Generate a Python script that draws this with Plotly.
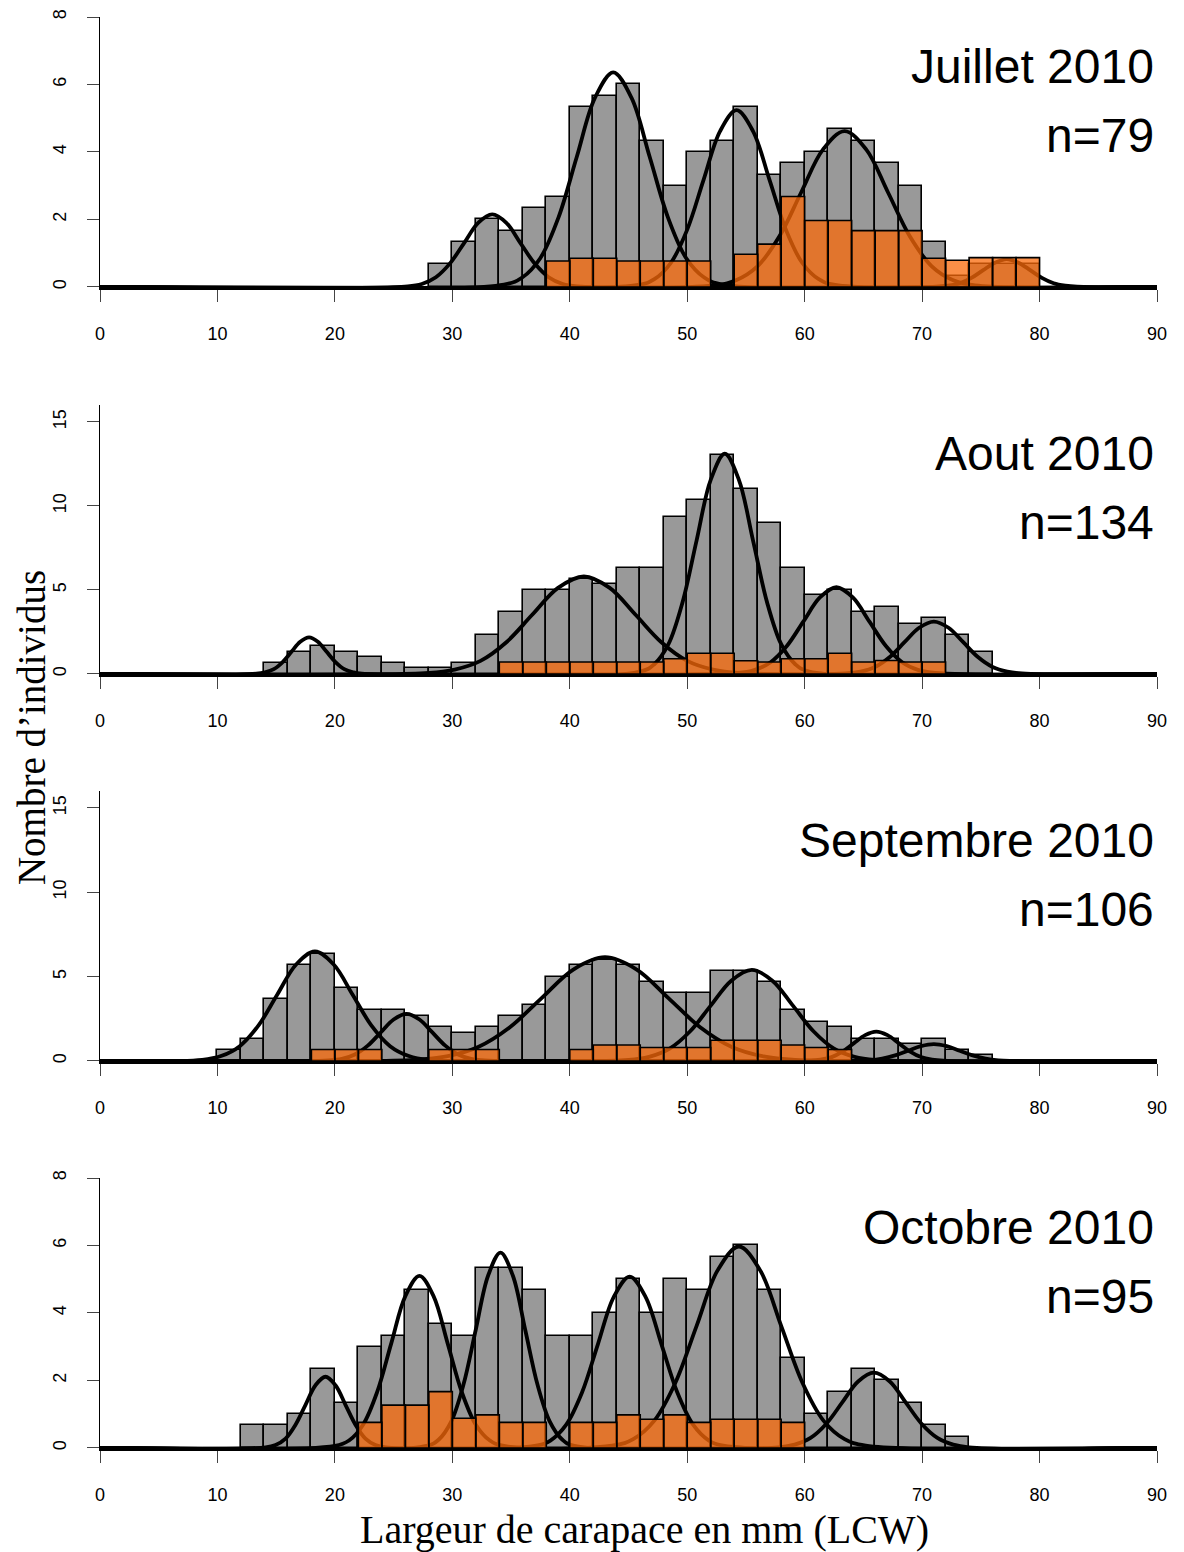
import plotly.graph_objects as go

# Juillet 2010
juillet_bins = list(range(28, 80, 2))
juillet_gray = [0.67, 1.33, 2.0, 1.67, 2.33, 2.67, 5.33, 5.67, 6.0, 4.33, 3.0, 4.0, 4.33,
                5.33, 3.33, 3.67, 4.0, 4.67, 4.33, 3.67, 3.0, 1.33, 0.33, 0.67, 0.67, 0.67]
juillet_obins = list(range(38, 80, 2))
juillet_orange = [0.77, 0.85, 0.85, 0.77, 0.77, 0.77, 0.77, 0, 0.97, 1.27, 2.68, 1.97, 1.97,
                  1.67, 1.67, 1.67, 0.85, 0.79, 0.87, 0.87, 0.87]
juillet_curves = [
    ([26.2, 27.4, 28.6, 29.8, 31.0, 32.2, 33.4, 34.6, 35.8, 37.0, 38.2, 39.4, 40.6],
     [0.02, 0.09, 0.29, 0.70, 1.30, 1.90, 2.15, 1.90, 1.30, 0.70, 0.29, 0.09, 0.02]),
    ([34.4, 35.95, 37.5, 39.05, 40.6, 42.15, 43.7, 45.25, 46.8, 48.35, 49.9, 51.45, 53.0],
     [0.07, 0.28, 0.86, 2.07, 3.86, 5.61, 6.36, 5.61, 3.86, 2.07, 0.86, 0.28, 0.07]),
    ([45.8, 47.2, 48.6, 50.0, 51.4, 52.8, 54.2, 55.6, 57.0, 58.4, 59.8, 61.2, 62.6],
     [0.06, 0.23, 0.71, 1.70, 3.18, 4.62, 5.24, 4.62, 3.18, 1.70, 0.71, 0.23, 0.06]),
    ([52.3, 54.15, 56.0, 57.85, 59.7, 61.55, 63.4, 65.25, 67.1, 68.95, 70.8, 72.65, 74.5],
     [0.05, 0.20, 0.62, 1.50, 2.80, 4.07, 4.62, 4.07, 2.80, 1.50, 0.62, 0.20, 0.05]),
    ([71.2, 72.2, 73.2, 74.2, 75.2, 76.2, 77.2, 78.2, 79.2, 80.2, 81.2, 82.2, 83.2],
     [0.01, 0.04, 0.11, 0.27, 0.50, 0.72, 0.82, 0.72, 0.50, 0.27, 0.11, 0.04, 0.01]),
]

# Aout 2010
aout_bins = list(range(14, 76, 2))
aout_gray = [0.67, 1.33, 1.67, 1.33, 1.0, 0.67, 0.33, 0.33, 0.67, 2.33, 3.67, 5.0, 5.0, 5.67,
             5.33, 6.33, 6.33, 9.33, 10.33, 13.0, 11.0, 9.0, 6.33, 4.67, 5.0, 3.67, 4.0, 3.0,
             3.33, 2.33, 1.33]
aout_obins = list(range(34, 72, 2))
aout_orange = [0.71, 0.71, 0.71, 0.71, 0.71, 0.71, 0.71, 0.91, 1.23, 1.23, 0.79, 0.71, 0.91,
               0.91, 1.23, 0.71, 0.8, 0.71, 0.71]
aout_curves = [
    ([13.3, 14.05, 14.8, 15.55, 16.3, 17.05, 17.8, 18.55, 19.3, 20.05, 20.8, 21.55, 22.3],
     [0.02, 0.10, 0.29, 0.71, 1.32, 1.92, 2.18, 1.92, 1.32, 0.71, 0.29, 0.10, 0.02]),
    ([28.0, 30.2, 32.4, 34.6, 36.8, 39.0, 41.2, 43.4, 45.6, 47.8, 50.0, 52.2, 54.4],
     [0.06, 0.26, 0.78, 1.89, 3.52, 5.12, 5.8, 5.12, 3.52, 1.89, 0.78, 0.26, 0.06]),
    ([46.0, 47.2, 48.4, 49.6, 50.8, 52.0, 53.2, 54.4, 55.6, 56.8, 58.0, 59.2, 60.4],
     [0.14, 0.58, 1.77, 4.26, 7.95, 11.55, 13.1, 11.55, 7.95, 4.26, 1.77, 0.58, 0.14]),
    ([54.3, 55.7, 57.1, 58.5, 59.9, 61.3, 62.7, 64.1, 65.5, 66.9, 68.3, 69.7, 71.1],
     [0.06, 0.23, 0.70, 1.68, 3.13, 4.55, 5.16, 4.55, 3.13, 1.68, 0.70, 0.23, 0.06]),
    ([63.5, 64.75, 66.0, 67.25, 68.5, 69.75, 71.0, 72.25, 73.5, 74.75, 76.0, 77.25, 78.5],
     [0.03, 0.14, 0.42, 1.01, 1.89, 2.75, 3.12, 2.75, 1.89, 1.01, 0.42, 0.14, 0.03]),
]

# Septembre 2010
sept_bins = list(range(10, 76, 2))
sept_gray = [0.67, 1.33, 3.67, 5.67, 6.33, 4.33, 3.0, 3.0, 2.67, 2.0, 1.67, 2.0, 2.67, 3.33,
             5.0, 5.67, 6.0, 5.67, 4.67, 4.0, 4.0, 5.33, 5.33, 4.67, 3.0, 2.33, 2.0, 1.33,
             1.33, 1.0, 1.33, 0.67, 0.33]
sept_obins = list(range(18, 64, 2))
sept_orange = [0.68, 0.68, 0.68, 0, 0, 0.68, 0.68, 0.68, 0, 0, 0, 0.68, 0.95, 0.95, 0.8, 0.8,
               0.8, 1.23, 1.23, 1.23, 0.95, 0.8, 0.68]
sept_curves = [
    ([8.7, 10.3, 11.9, 13.5, 15.1, 16.7, 18.3, 19.9, 21.5, 23.1, 24.7, 26.3, 27.9],
     [0.07, 0.29, 0.88, 2.11, 3.94, 5.72, 6.49, 5.72, 3.94, 2.11, 0.88, 0.29, 0.07]),
    ([19.5, 20.6, 21.7, 22.8, 23.9, 25.0, 26.1, 27.2, 28.3, 29.4, 30.5, 31.6, 32.7],
     [0.03, 0.12, 0.38, 0.91, 1.69, 2.46, 2.79, 2.46, 1.69, 0.91, 0.38, 0.12, 0.03]),
    ([26.8, 29.5, 32.2, 34.9, 37.6, 40.3, 43.0, 45.7, 48.4, 51.1, 53.8, 56.5, 59.2],
     [0.07, 0.27, 0.83, 2.00, 3.73, 5.42, 6.15, 5.42, 3.73, 2.00, 0.83, 0.27, 0.07]),
    ([45.0, 46.75, 48.5, 50.25, 52.0, 53.75, 55.5, 57.25, 59.0, 60.75, 62.5, 64.25, 66.0],
     [0.06, 0.24, 0.73, 1.76, 3.28, 4.76, 5.4, 4.76, 3.28, 1.76, 0.73, 0.24, 0.06]),
    ([60.4, 61.35, 62.3, 63.25, 64.2, 65.15, 66.1, 67.05, 68.0, 68.95, 69.9, 70.85, 71.8],
     [0.02, 0.08, 0.23, 0.57, 1.06, 1.53, 1.74, 1.53, 1.06, 0.57, 0.23, 0.08, 0.02]),
    ([64.4, 65.5, 66.6, 67.7, 68.8, 69.9, 71.0, 72.1, 73.2, 74.3, 75.4, 76.5, 77.6],
     [0.01, 0.04, 0.14, 0.33, 0.61, 0.88, 1.0, 0.88, 0.61, 0.33, 0.14, 0.04, 0.01]),
]

# Octobre 2010
oct_bins = list(range(12, 74, 2))
oct_gray = [0.67, 0.67, 1.0, 2.33, 1.33, 3.0, 3.33, 4.67, 3.67, 3.33, 5.33, 5.33, 4.67, 3.33,
            3.33, 4.0, 5.0, 4.0, 5.0, 4.67, 5.67, 6.0, 4.67, 2.67, 1.0, 1.67, 2.33, 2.0, 1.33,
            0.67, 0.33]
oct_obins = list(range(22, 60, 2))
oct_orange = [0.76, 1.27, 1.27, 1.67, 0.88, 0.98, 0.76, 0.76, 0, 0.76, 0.76, 0.98, 0.85, 0.98,
              0.76, 0.85, 0.85, 0.85, 0.76]
oct_curves = [
    ([14.1, 14.95, 15.8, 16.65, 17.5, 18.35, 19.2, 20.05, 20.9, 21.75, 22.6, 23.45, 24.3],
     [0.02, 0.09, 0.28, 0.69, 1.28, 1.86, 2.11, 1.86, 1.28, 0.69, 0.28, 0.09, 0.02]),
    ([20.0, 21.2, 22.4, 23.6, 24.8, 26.0, 27.2, 28.4, 29.6, 30.8, 32.0, 33.2, 34.4],
     [0.06, 0.22, 0.69, 1.66, 3.10, 4.50, 5.1, 4.50, 3.10, 1.66, 0.69, 0.22, 0.06]),
    ([27.8, 28.85, 29.9, 30.95, 32.0, 33.05, 34.1, 35.15, 36.2, 37.25, 38.3, 39.35, 40.4],
     [0.06, 0.25, 0.78, 1.88, 3.51, 5.11, 5.79, 5.11, 3.51, 1.88, 0.78, 0.25, 0.06]),
    ([37.0, 38.35, 39.7, 41.05, 42.4, 43.75, 45.1, 46.45, 47.8, 49.15, 50.5, 51.85, 53.2],
     [0.06, 0.22, 0.69, 1.65, 3.08, 4.48, 5.08, 4.48, 3.08, 1.65, 0.69, 0.22, 0.06]),
    ([43.6, 45.4, 47.2, 49.0, 50.8, 52.6, 54.4, 56.2, 58.0, 59.8, 61.6, 63.4, 65.2],
     [0.07, 0.26, 0.81, 1.94, 3.62, 5.27, 5.97, 5.27, 3.62, 1.94, 0.81, 0.26, 0.07]),
    ([57.8, 59.15, 60.5, 61.85, 63.2, 64.55, 65.9, 67.25, 68.6, 69.95, 71.3, 72.65, 74.0],
     [0.02, 0.10, 0.30, 0.72, 1.35, 1.97, 2.23, 1.97, 1.35, 0.72, 0.30, 0.10, 0.02]),
]

titles = ["Juillet 2010", "Aout 2010", "Septembre 2010", "Octobre 2010"]
counts = ["n=79", "n=134", "n=106", "n=95"]
bin_width = 2

panels = [
    (juillet_bins, juillet_gray, juillet_obins, juillet_orange, juillet_curves, 8, [0, 2, 4, 6, 8]),
    (aout_bins, aout_gray, aout_obins, aout_orange, aout_curves, 16, [0, 5, 10, 15]),
    (sept_bins, sept_gray, sept_obins, sept_orange, sept_curves, 16, [0, 5, 10, 15]),
    (oct_bins, oct_gray, oct_obins, oct_orange, oct_curves, 8, [0, 2, 4, 6, 8]),
]

# the page body adds an 8px margin, so the figure is drawn 8px smaller
W, H = 1176, 1544
# pixel rows (top, bottom) of each plotting area inside the figure
rows_px = [(9, 281), (397, 668), (783, 1055), (1170, 1442)]

fig = go.Figure()
axis_font = dict(family="Liberation Sans, Arial, sans-serif", size=18, color="black")
title_font = dict(family="Liberation Sans, Arial, sans-serif", size=48, color="black")

for i, (bins, gray, obins, orange, curves, ymax, yticks) in enumerate(panels):
    n = i + 1
    xa = "x" if n == 1 else f"x{n}"
    ya = "y" if n == 1 else f"y{n}"

    fig.add_trace(go.Bar(
        x=[b + bin_width / 2 for b in bins], y=gray, width=bin_width,
        marker=dict(color="#999999", line=dict(color="black", width=1.6)),
        xaxis=xa, yaxis=ya, hoverinfo="skip", showlegend=False))

    for cx, cy in curves:
        fig.add_trace(go.Scatter(
            x=[0] + cx + [90], y=[0] + cy + [0], mode="lines",
            line=dict(color="black", width=3.8, shape="spline"),
            xaxis=xa, yaxis=ya, hoverinfo="skip", showlegend=False))

    # semi-transparent orange histogram drawn over the curves
    px, py = [], []
    for b, h in zip(obins, orange):
        if h <= 0:
            continue
        px += [b, b, b + bin_width, b + bin_width, b, None]
        py += [0, h, h, 0, 0, None]
    fig.add_trace(go.Scatter(
        x=px, y=py, mode="lines", fill="toself",
        fillcolor="rgba(250,105,10,0.75)", line=dict(color="black", width=1.6),
        xaxis=xa, yaxis=ya, hoverinfo="skip", showlegend=False))

    top, bot = rows_px[i]
    ax_x = dict(domain=[0, 1], range=[0, 90], tickvals=list(range(0, 100, 10)),
                ticks="outside", ticklen=12, tickwidth=1.2, showline=True,
                linecolor="black", linewidth=1.2, showgrid=False, zeroline=False,
                tickfont=axis_font, anchor=ya, ticklabelstandoff=16, automargin=False)
    ax_y = dict(domain=[1 - bot / H, 1 - top / H], range=[-ymax * 0.0075, ymax],
                tickvals=yticks, tickangle=-90, ticks="outside", ticklen=12, tickwidth=1.2,
                showline=True, linecolor="black", linewidth=1.2, showgrid=False,
                zeroline=False, tickfont=axis_font, anchor=xa, ticklabelstandoff=14,
                automargin=False)
    fig.update_layout(**{("xaxis" if n == 1 else f"xaxis{n}"): ax_x,
                         ("yaxis" if n == 1 else f"yaxis{n}"): ax_y})

    fig.add_annotation(text=titles[i], x=89.9, y=ymax * 0.818, xref=xa, yref=ya,
                       xanchor="right", yanchor="middle", showarrow=False, font=title_font)
    fig.add_annotation(text=counts[i], x=89.9, y=ymax * 0.562, xref=xa, yref=ya,
                       xanchor="right", yanchor="middle", showarrow=False, font=title_font)

serif = dict(family="Liberation Serif, Times New Roman, serif", size=39, color="black")
fig.add_annotation(text="Nombre d’individus", textangle=-90, x=-0.0652, y=1 - 720 / H,
                   xref="paper", yref="paper", xanchor="center", yanchor="middle",
                   showarrow=False, font=serif)
fig.add_annotation(text="Largeur de carapace en mm (LCW)", x=0.5156, y=1 - 1521 / H,
                   xref="paper", yref="paper", xanchor="center", yanchor="middle",
                   showarrow=False, font=dict(serif, size=40))

fig.update_layout(width=W, height=H, margin=dict(l=92, r=27, t=0, b=0),
                  plot_bgcolor="white", paper_bgcolor="white", showlegend=False, bargap=0)

fig.write_html("out.html")
